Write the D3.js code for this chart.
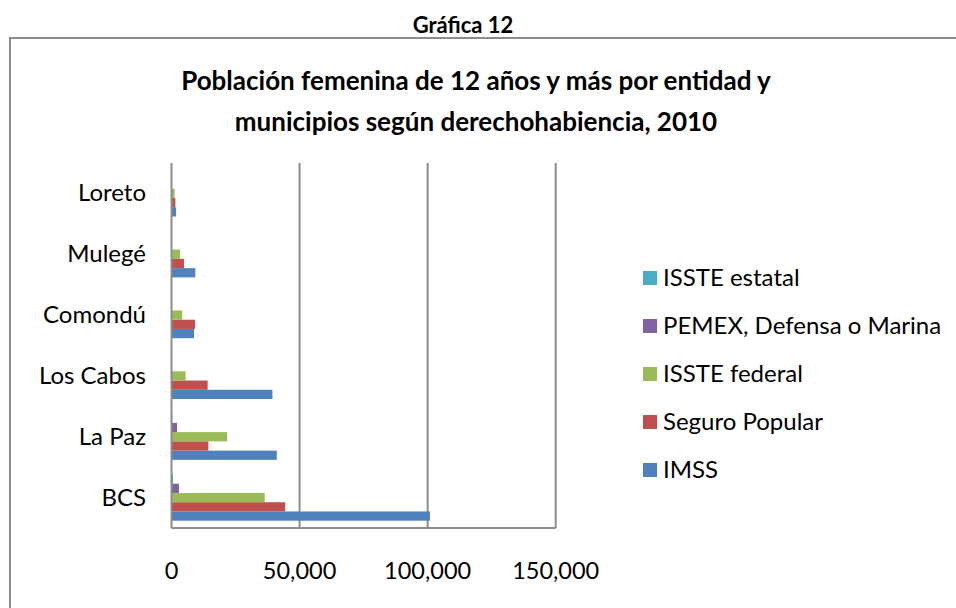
<!DOCTYPE html>
<html>
<head>
<meta charset="utf-8">
<script src="https://cdn.jsdelivr.net/npm/d3@7"></script>
<style>
 body { margin: 0; background: #fff; }
 text { font-family: Lato, "Open Sans", sans-serif; fill: #000; }
</style>
</head>
<body>
<svg id="chart" width="956" height="608"></svg>
<script>
 // categories, top to bottom
 const places = ['Loreto', 'Mulegé', 'Comondú', 'Los Cabos', 'La Paz', 'BCS'];
 // series, drawn bottom to top inside each group
 const seriesNames = ['IMSS', 'Seguro Popular', 'ISSTE federal', 'PEMEX, Defensa o Marina', 'ISSTE estatal'];
 const seriesColors = ['#4f81bd', '#c0504d', '#9bbb59', '#8064a2', '#4bacc6'];

 const imss     = [1800, 9300, 8800, 39400, 41100, 100900];
 const popular  = [1500, 4900, 9200, 14100, 14400, 44400];
 const federal  = [1200, 3300, 4200, 5500, 21700, 36400];
 const pemex    = [100, 200, 100, 200, 2150, 2900];
 const estatal  = [50, 100, 50, 50, 300, 600];
 const values = [imss, popular, federal, pemex, estatal];

 const xTicks = [0, 50000, 100000, 150000];

 const svg = d3.select('#chart');

 // outer frame
 svg.append('rect')
    .attr('x', 10).attr('y', 38)
    .attr('width', 960).attr('height', 600)
    .attr('fill', 'none')
    .attr('stroke', '#8c8c8c')
    .attr('stroke-width', 2);

 svg.append('text')
    .attr('x', 463).attr('y', 33)
    .attr('text-anchor', 'middle')
    .style('font-size', '22px').style('font-weight', 'bold')
    .text('Gráfica 12');

 const title = ['Población femenina de 12 años y más por entidad y',
                'municipios según derechohabiencia, 2010'];
 svg.selectAll('.title')
    .data(title)
    .enter().append('text')
    .attr('class', 'title')
    .attr('x', 476)
    .attr('y', (d, i) => 90 + i * 41)
    .attr('text-anchor', 'middle')
    .style('font-size', '26px').style('font-weight', 'bold')
    .text(d => d);

 // plot area
 const pLeft = 171.5, pRight = 555.7, pTop = 163, pBottom = 528;
 const x = d3.scaleLinear().domain([0, 150000]).range([pLeft, pRight]);
 const y = d3.scaleBand().domain(places).range([pTop, pBottom])
             .paddingInner(0.24).paddingOuter(0.12);
 const ys = d3.scaleBand().domain(seriesNames).range([y.bandwidth(), 0]);

 // vertical gridlines
 svg.selectAll('.grid')
    .data(xTicks.slice(1))
    .enter().append('line')
    .attr('class', 'grid')
    .attr('x1', d => x(d)).attr('x2', d => x(d))
    .attr('y1', pTop).attr('y2', pBottom)
    .attr('stroke', '#8c8c8c').attr('stroke-width', 2);

 // bars
 seriesNames.forEach((s, si) => {
   svg.append('g')
      .selectAll('rect')
      .data(values[si])
      .enter().append('rect')
      .attr('x', x(0))
      .attr('y', (d, i) => y(places[i]) + ys(s))
      .attr('width', d => x(d) - x(0))
      .attr('height', ys.bandwidth())
      .attr('fill', seriesColors[si]);
 });

 // axes lines
 svg.append('line')
    .attr('x1', pLeft).attr('x2', pLeft).attr('y1', pTop).attr('y2', pBottom)
    .attr('stroke', '#8c8c8c').attr('stroke-width', 2);
 svg.append('line')
    .attr('x1', pLeft).attr('x2', pRight).attr('y1', pBottom).attr('y2', pBottom)
    .attr('stroke', '#8c8c8c').attr('stroke-width', 2);

 // x tick labels
 svg.selectAll('.xt')
    .data(xTicks)
    .enter().append('text')
    .attr('class', 'xt')
    .attr('x', d => x(d)).attr('y', 579)
    .attr('text-anchor', 'middle')
    .style('font-size', '23.5px')
    .text(d => d3.format(',')(d));

 // category labels
 svg.selectAll('.yt')
    .data(places)
    .enter().append('text')
    .attr('class', 'yt')
    .attr('x', 146)
    .attr('y', d => y(d) + y.bandwidth() / 2 + 8)
    .attr('text-anchor', 'end')
    .style('font-size', '24px')
    .text(d => d);

 // legend, top to bottom
 const legendOrder = seriesNames.slice().reverse();
 const lg = svg.selectAll('.lg')
    .data(legendOrder)
    .enter().append('g')
    .attr('class', 'lg')
    .attr('transform', (d, i) => `translate(643, ${278 + i * 48})`);
 lg.append('rect')
   .attr('x', 0).attr('y', -7)
   .attr('width', 14).attr('height', 14)
   .attr('fill', d => seriesColors[seriesNames.indexOf(d)]);
 lg.append('text')
   .attr('x', 20).attr('y', 8)
   .style('font-size', '24px')
   .text(d => d);
</script>
</body>
</html>
